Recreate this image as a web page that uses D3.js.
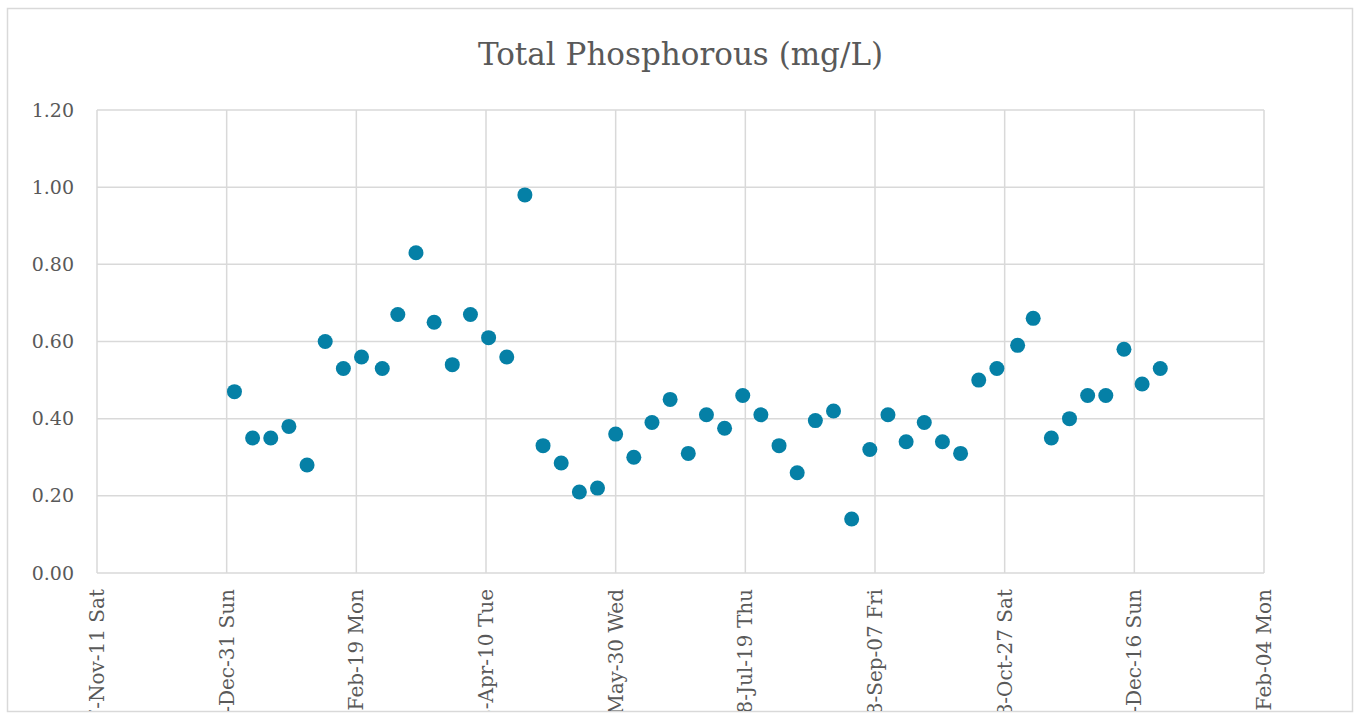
<html>
<head>
<meta charset="utf-8">
<script src="https://d3js.org/d3.v7.min.js"></script>
<style>
  body { margin: 0; background: #fff; }
  text { font-family: "DejaVu Serif", serif; }
</style>
</head>
<body>
<div id="chart"></div>
<script>
// sample dates (weekly, mostly Wednesdays)
var sampleDates = [
  "2018-01-03","2018-01-10","2018-01-17","2018-01-24","2018-01-31",
  "2018-02-07","2018-02-14","2018-02-21","2018-03-01","2018-03-07",
  "2018-03-14","2018-03-21","2018-03-28","2018-04-04","2018-04-11",
  "2018-04-18","2018-04-25","2018-05-02","2018-05-09","2018-05-16",
  "2018-05-23","2018-05-30","2018-06-06","2018-06-13","2018-06-20",
  "2018-06-27","2018-07-04","2018-07-11","2018-07-18","2018-07-25",
  "2018-08-01","2018-08-08","2018-08-15","2018-08-22","2018-08-29",
  "2018-09-05","2018-09-12","2018-09-19","2018-09-26","2018-10-03",
  "2018-10-10","2018-10-17","2018-10-24","2018-11-01","2018-11-07",
  "2018-11-14","2018-11-21","2018-11-28","2018-12-05","2018-12-12",
  "2018-12-19","2018-12-26"
]
// total phosphorous mg/L
var tpValues = [
  0.47, 0.35, 0.35, 0.38, 0.28,
  0.60, 0.53, 0.56, 0.53, 0.67,
  0.83, 0.65, 0.54, 0.67, 0.61,
  0.56, 0.98, 0.33, 0.285, 0.21,
  0.22, 0.36, 0.30, 0.39, 0.45,
  0.31, 0.41, 0.375, 0.46, 0.41,
  0.33, 0.26, 0.395, 0.42, 0.14,
  0.32, 0.41, 0.34, 0.39, 0.34,
  0.31, 0.50, 0.53, 0.59, 0.66,
  0.35, 0.40, 0.46, 0.46, 0.58,
  0.49, 0.53
]
var xTickDates = ["2017-11-11","2017-12-31","2018-02-19","2018-04-10","2018-05-30",
                  "2018-07-19","2018-09-07","2018-10-27","2018-12-16","2019-02-04"]
var yTicks = [0, 0.2, 0.4, 0.6, 0.8, 1.0, 1.2]
var chartTitle = "Total Phosphorous (mg/L)"

var width = 1354, height = 713
var margin = {left: 97, right: 90, top: 110, bottom: 140}
var parse = d3.utcParse("%Y-%m-%d")
var fmt = d3.utcFormat("%Y-%b-%d %a")

var svg = d3.select("#chart").append("svg")
    .attr("width", width)
    .attr("height", height)

svg.append("clipPath").attr("id", "frame")
  .append("rect").attr("x", 7).attr("y", 8).attr("width", 1345).attr("height", 703)

svg.append("rect")
    .attr("x", 7.5).attr("y", 8.5).attr("width", 1345).attr("height", 703)
    .attr("fill", "#fff").attr("stroke", "#d9d9d9").attr("stroke-width", 1.5)

var ticks = xTickDates.map(parse)
var x = d3.scaleUtc()
    .domain([ticks[0], ticks[ticks.length - 1]])
    .range([margin.left, width - margin.right])
var y = d3.scaleLinear()
    .domain([0, 1.2])
    .range([height - margin.bottom, margin.top])

var g = svg.append("g").attr("clip-path", "url(#frame)")

// grid
g.selectAll(".hgrid").data(yTicks).enter().append("line")
    .attr("x1", x.range()[0]).attr("x2", x.range()[1])
    .attr("y1", d => y(d)).attr("y2", d => y(d))
    .attr("stroke", "#d9d9d9").attr("stroke-width", 1.5)
g.selectAll(".vgrid").data(ticks).enter().append("line")
    .attr("x1", d => x(d)).attr("x2", d => x(d))
    .attr("y1", y.range()[1]).attr("y2", y.range()[0])
    .attr("stroke", "#d9d9d9").attr("stroke-width", 1.5)

// y labels
g.selectAll(".ylab").data(yTicks).enter().append("text")
    .attr("x", 74).attr("y", d => y(d)).attr("dy", "0.35em")
    .attr("text-anchor", "end")
    .attr("font-size", 19).attr("fill", "#595959")
    .text(d => d3.format(".2f")(d))

// x labels, rotated (cut by the chart frame like the original)
g.selectAll(".xlab").data(ticks).enter().append("text")
    .attr("transform", d => "translate(" + x(d) + ",589) rotate(-90)")
    .attr("dy", "0.35em")
    .attr("text-anchor", "end")
    .attr("font-size", 20).attr("fill", "#595959")
    .text(d => fmt(d))

// points
var pts = sampleDates.map((d, i) => ({date: parse(d), v: tpValues[i]}))
g.selectAll(".pt").data(pts).enter().append("circle")
    .attr("cx", d => x(d.date)).attr("cy", d => y(d.v))
    .attr("r", 7.5).attr("fill", "#0580a6")

svg.append("text")
    .attr("x", (x.range()[0] + x.range()[1]) / 2).attr("y", 65)
    .attr("text-anchor", "middle")
    .attr("font-size", 31).attr("fill", "#595959")
    .text(chartTitle)
</script>
</body>
</html>
